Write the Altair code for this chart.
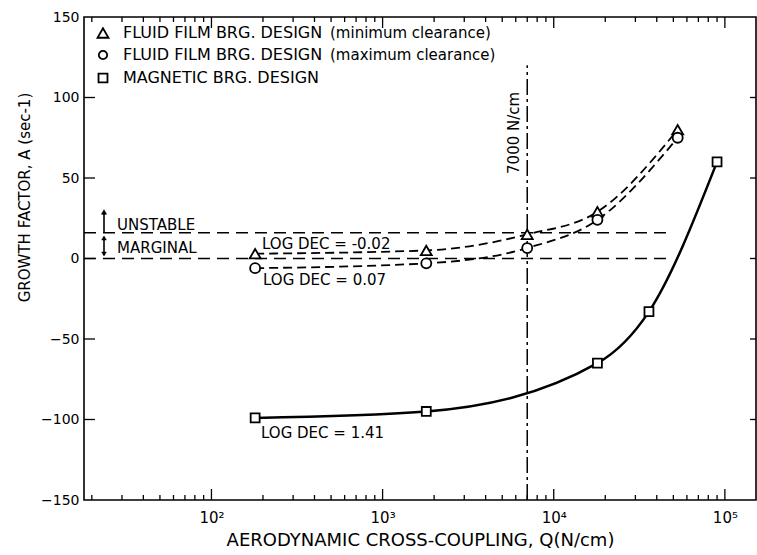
import altair as alt
import pandas as pd

FONT = "DejaVu Sans"

# ---------------- data ----------------
series_names = ["min", "max", "mag"]
q_min = [180, 1800, 7000, 18000, 53000]
a_min = [3, 5, 15, 29, 80]
q_max = [180, 1800, 7000, 18000, 53000]
a_max = [-6, -3, 6.5, 24, 75]
q_mag = [180, 1800, 18000, 36000, 90000]
a_mag = [-99, -95, -65, -33, 60]

threshold_a = [0, 16]
threshold_q = [18, 48000]
line_q = 7000
line_a = [-150, 120]

x_major = [100, 1000, 10000, 100000]
x_major_labels = ["10²", "10³", "10⁴", "10⁵"]
x_minor = [m * 10 ** e for e in range(1, 6) for m in range(2, 10) if 18 < m * 10 ** e < 152000]
y_ticks = [-100, -50, 0, 50, 100]
y_labels = [-150, -100, -50, 0, 50, 100, 150]

PW, PH = 672, 483

xs = alt.Scale(type="log", domain=[18, 152000], nice=False)
ys = alt.Scale(domain=[-150, 150], nice=False)

rows = []
for name, qs, As in [("min", q_min, a_min), ("max", q_max, a_max), ("mag", q_mag, a_mag)]:
    for q, a in zip(qs, As):
        rows.append({"series": name, "q": q, "a": a})
df = pd.DataFrame(rows)
df_fluid = df[df.series != "mag"]
df_mag = df[df.series == "mag"]

lbl_expr = " : ".join(
    f"datum.value == {v} ? '{l}'" for v, l in zip(x_major, x_major_labels)
) + " : ''"

X = alt.X("q:Q", scale=xs, axis=alt.Axis(
    values=x_major, labelExpr=lbl_expr, title="AERODYNAMIC CROSS-COUPLING, Q(N/cm)",
    labelFontSize=15, labelPadding=10, titleFontSize=18, titlePadding=6,
    titleFontWeight="normal", grid=False, ticks=False, domain=False,
    labelFont=FONT, titleFont=FONT, labelColor="black", titleColor="black"))
Y = alt.Y("a:Q", scale=ys, axis=alt.Axis(
    values=y_labels, title="GROWTH FACTOR, A (sec-1)", labelFontSize=14,
    labelPadding=5, titleFontSize=15, titleFontWeight="normal",
    titleX=-52, titleY=180, titleAngle=-90, titleBaseline="bottom",
    grid=False, ticks=False, domain=False,
    labelFont=FONT, titleFont=FONT, labelColor="black", titleColor="black"))

XN = lambda f: alt.X(f, scale=xs)
YN = lambda f: alt.Y(f, scale=ys)

one = pd.DataFrame({"k": [0]})

# curves and markers (first layer carries the axes)
fluid_lines = alt.Chart(df_fluid).mark_line(color="black", strokeWidth=1.8, strokeDash=[9, 5],
                                            interpolate="monotone").encode(
    x=X, y=Y, detail="series:N")
mag_line = alt.Chart(df_mag).mark_line(color="black", strokeWidth=2.5, interpolate="monotone").encode(
    x=XN("q:Q"), y=YN("a:Q"))

shape_scale = alt.Scale(domain=series_names, range=["triangle-up", "circle", "square"])
size_scale = alt.Scale(domain=series_names, range=[120, 80, 90])
markers = alt.Chart(df).mark_point(filled=True, fill="white", stroke="black", strokeWidth=1.8,
                                   opacity=1).encode(
    x=XN("q:Q"), y=YN("a:Q"),
    shape=alt.Shape("series:N", scale=shape_scale, legend=None),
    size=alt.Size("series:N", scale=size_scale, legend=None))

# threshold dashed lines
df_thr = pd.DataFrame({"a": threshold_a, "q0": threshold_q[0], "q1": threshold_q[1]})
thr = alt.Chart(df_thr).mark_rule(color="black", strokeWidth=1.5, strokeDash=[12, 7]).encode(
    x=XN("q0:Q"), x2="q1:Q", y=YN("a:Q"))

# vertical 7000 N/cm line
df_v = pd.DataFrame({"q": [line_q], "a0": [line_a[0]], "a1": [line_a[1]]})
vline = alt.Chart(df_v).mark_rule(color="black", strokeWidth=1.5, strokeDash=[16, 4, 3, 4]).encode(
    x=XN("q:Q"), y=YN("a0:Q"), y2="a1:Q")
vtext = alt.Chart(df_v).mark_text(angle=270, align="center", baseline="bottom", dy=-5,
                                  fontSize=15, font=FONT, color="black", text="7000 N/cm").encode(
    x=XN("q:Q"), y=alt.value(PH - (78 + 150) * PH / 300))

# inward ticks
def xt(vals, length, top):
    d = pd.DataFrame({"q": vals})
    if top:
        yy, yy2 = alt.value(0), alt.value(length)
    else:
        yy, yy2 = alt.value(PH), alt.value(PH - length)
    return alt.Chart(d).mark_rule(color="black", strokeWidth=1.3).encode(
        x=XN("q:Q"), y=yy, y2=yy2)

def yt(vals, length, right):
    d = pd.DataFrame({"a": vals})
    if right:
        xx, xx2 = alt.value(PW), alt.value(PW - length)
    else:
        xx, xx2 = alt.value(0), alt.value(length)
    return alt.Chart(d).mark_rule(color="black", strokeWidth=1.3).encode(
        y=YN("a:Q"), x=xx, x2=xx2)

ticks = [xt(x_minor, 5, False), xt(x_major, 11, False), xt(x_minor, 5, True), xt(x_major, 11, True),
         yt(y_ticks, 11, False), yt(y_ticks, 6, True)]

def txt(s, x, y, size=15, align="left"):
    return alt.Chart(one).mark_text(text=s, fontSize=size, font=FONT, color="black",
                                    align=align, baseline="middle").encode(
        x=alt.value(x), y=alt.value(y))

def sym(shape, x, y, size, filled=False):
    return alt.Chart(one).mark_point(shape=shape, size=size, filled=True,
                                     fill="black" if filled else "white", stroke="black",
                                     strokeWidth=1.8 if not filled else 0.5, opacity=1).encode(
        x=alt.value(x), y=alt.value(y))

def seg(x, y1, y2):
    return alt.Chart(one).mark_rule(color="black", strokeWidth=1.6).encode(
        x=alt.value(x), y=alt.value(y1), y2=alt.value(y2))

annotations = [
    txt("UNSTABLE", 33, 208),
    txt("MARGINAL", 33, 231),
    txt("LOG DEC = -0.02", 178, 227),
    txt("LOG DEC = 0.07", 179, 263),
    txt("LOG DEC = 1.41", 177, 416),
    seg(20, 215, 196), sym("triangle-up", 20, 195, 28, True),
    seg(20, 220, 238), sym("triangle-up", 20, 221, 22, True), sym("triangle-down", 20, 237, 22, True),
]

legend_items = [
    ("triangle-up", 120, "FLUID FILM BRG. DESIGN", "(minimum clearance)"),
    ("circle", 70, "FLUID FILM BRG. DESIGN", "(maximum clearance)"),
    ("square", 80, "MAGNETIC BRG. DESIGN", ""),
]
legend_rows_y = [16, 38, 61]
legend = []
for (shp, sz, caps, low), yy in zip(legend_items, legend_rows_y):
    legend.append(sym(shp, 19, yy, sz))
    legend.append(txt(caps, 39, yy, 16))
    if low:
        legend.append(txt(low, 246, yy, 15))

chart = alt.layer(fluid_lines, thr, vline, vtext, mag_line, markers, *ticks, *annotations, *legend).properties(
    width=PW, height=PH,
    padding={"left": 84, "top": 17, "right": 1, "bottom": 55},
    autosize=alt.AutoSizeParams(type="none"),
    background="white",
).configure_view(stroke="black", strokeWidth=1.6).configure_axis(
    grid=False, ticks=False, domain=False, labelFont=FONT, titleFont=FONT,
    labelColor="black", titleColor="black"
)

chart.save("out.html", embed_options={"renderer": "svg", "actions": False})
